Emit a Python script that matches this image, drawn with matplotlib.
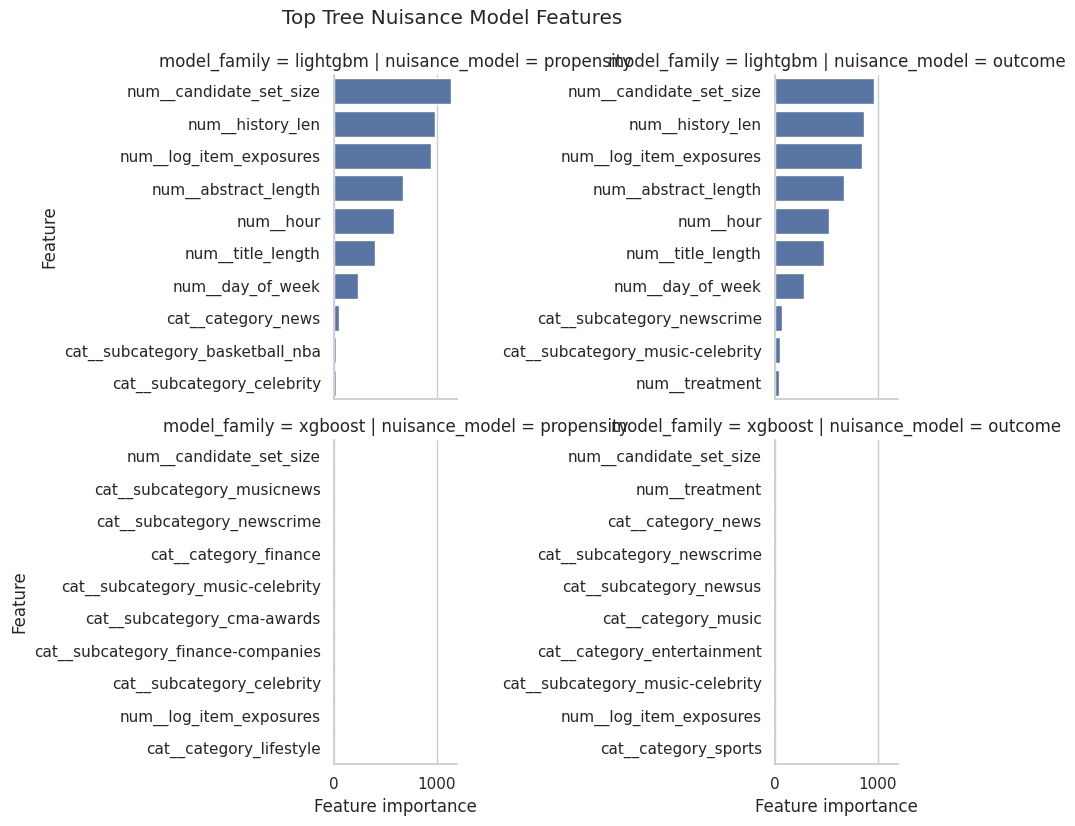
import numpy as np
import pandas as pd
import seaborn as sns
from matplotlib import pyplot as plt

# feature lists per facet (already sorted by importance)
lgb_prop_features = ["num__candidate_set_size", "num__history_len", "num__log_item_exposures",
	"num__abstract_length", "num__hour", "num__title_length", "num__day_of_week",
	"cat__category_news", "cat__subcategory_basketball_nba", "cat__subcategory_celebrity"]
lgb_prop_values = [1141, 982, 943, 668, 580, 404, 237, 51, 22, 21]

lgb_out_features = ["num__candidate_set_size", "num__history_len", "num__log_item_exposures",
	"num__abstract_length", "num__hour", "num__title_length", "num__day_of_week",
	"cat__subcategory_newscrime", "cat__subcategory_music-celebrity", "num__treatment"]
lgb_out_values = [965, 867, 847, 671, 525, 476, 280, 65, 46, 36]

xgb_prop_features = ["num__candidate_set_size", "cat__subcategory_musicnews", "cat__subcategory_newscrime",
	"cat__category_finance", "cat__subcategory_music-celebrity", "cat__subcategory_cma-awards",
	"cat__subcategory_finance-companies", "cat__subcategory_celebrity", "num__log_item_exposures",
	"cat__category_lifestyle"]
xgb_prop_values = [0.12, 0.05, 0.04, 0.035, 0.03, 0.028, 0.026, 0.024, 0.022, 0.02]

xgb_out_features = ["num__candidate_set_size", "num__treatment", "cat__category_news",
	"cat__subcategory_newscrime", "cat__subcategory_newsus", "cat__category_music",
	"cat__category_entertainment", "cat__subcategory_music-celebrity", "num__log_item_exposures",
	"cat__category_sports"]
xgb_out_values = [0.15, 0.07, 0.05, 0.04, 0.035, 0.03, 0.028, 0.025, 0.023, 0.02]

facets = [
	("lightgbm", "propensity", lgb_prop_features, lgb_prop_values),
	("lightgbm", "outcome", lgb_out_features, lgb_out_values),
	("xgboost", "propensity", xgb_prop_features, xgb_prop_values),
	("xgboost", "outcome", xgb_out_features, xgb_out_values),
]

sns.set_theme(style="whitegrid")

fig, axes = plt.subplots(2, 2, figsize=(10.75, 8.26), dpi=100, sharex=True)
fig.subplots_adjust(left=0.3107, right=0.8353, top=0.9092, bottom=0.0751,
	wspace=2.585, hspace=0.1265)

for ax, (fam, nm, feats, vals) in zip(axes.flat, facets):
	df = pd.DataFrame({"feature": feats, "importance": vals})
	sns.barplot(data=df, x="importance", y="feature", ax=ax, color="#4c72b0", saturation=0.75)
	ax.set_title("model_family = %s | nuisance_model = %s" % (fam, nm), fontsize=12)
	ax.set_xlabel("")
	ax.set_ylabel("")
	ax.grid(False, axis="y")
	sns.despine(ax=ax)

for ax in axes[:, 0]:
	ax.set_ylabel("Feature", fontsize=12)
for ax in axes[1, :]:
	ax.set_xlabel("Feature importance", fontsize=12)

axes[0, 0].set_xlim(0, 1198)
axes[0, 0].set_xticks([0, 1000])

fig.suptitle("Top Tree Nuisance Model Features", x=0.421, y=0.989, fontsize=14.4)

plt.savefig("out.png", dpi=100)
